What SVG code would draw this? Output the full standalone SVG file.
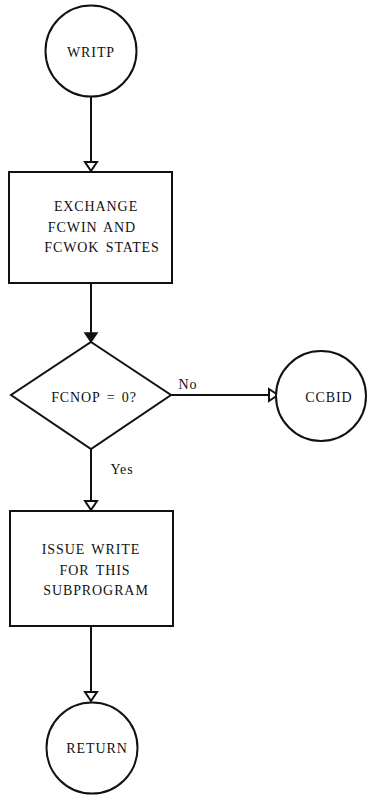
<svg xmlns="http://www.w3.org/2000/svg" width="377" height="795" viewBox="0 0 377 795">
<style>
.s{fill:#fff;stroke:#111;stroke-width:2}
.c{fill:none;stroke:#111;stroke-width:2}
.o{fill:#fff;stroke:#111;stroke-width:2;stroke-linejoin:miter}
.f{fill:#111;stroke:#111;stroke-width:1.5}
text{font-family:"Liberation Serif","DejaVu Serif",serif;font-size:14px;fill:#111;text-anchor:middle;letter-spacing:0.9px;word-spacing:2px}
</style>
<rect width="377" height="795" fill="#fff"/>
<g id="connectors">
<line class="c" x1="91" y1="97" x2="91" y2="162"/>
<polygon class="o" points="85,162 97,162 91,171"/>
<line class="c" x1="91" y1="283" x2="91" y2="333"/>
<polygon class="f" points="85,333 97,333 91,342"/>
<line class="c" x1="171" y1="395" x2="269" y2="395"/>
<polygon class="o" points="269,389 269,401 278,395"/>
<text x="188" y="389">No</text>
<line class="c" x1="91" y1="449" x2="91" y2="501"/>
<polygon class="o" points="85,501 97,501 91,510"/>
<text x="122" y="474">Yes</text>
<line class="c" x1="91" y1="626" x2="91" y2="692"/>
<polygon class="o" points="85,692 97,692 91,701"/>
</g>
<g id="writp">
<circle class="s" cx="91" cy="51" r="45.5"/>
<text x="91" y="57">WRITP</text>
</g>
<g id="exchange">
<rect class="s" x="9" y="172" width="163" height="111"/>
<text x="96" y="211">EXCHANGE</text>
<text x="92" y="232">FCWIN AND</text>
<text x="102" y="252">FCWOK STATES</text>
</g>
<g id="decision">
<polygon class="s" points="91,342 171,395 91,449 11,395"/>
<text x="94" y="402">FCNOP = 0?</text>
</g>
<g id="ccbid">
<circle class="s" cx="321" cy="396" r="45"/>
<text x="329" y="402">CCBID</text>
</g>
<g id="issue">
<rect class="s" x="10" y="511" width="163" height="115"/>
<text x="91" y="554">ISSUE WRITE</text>
<text x="95" y="575">FOR THIS</text>
<text x="96" y="595">SUBPROGRAM</text>
</g>
<g id="return">
<circle class="s" cx="92" cy="748" r="45.5"/>
<text x="97" y="753">RETURN</text>
</g>
</svg>
